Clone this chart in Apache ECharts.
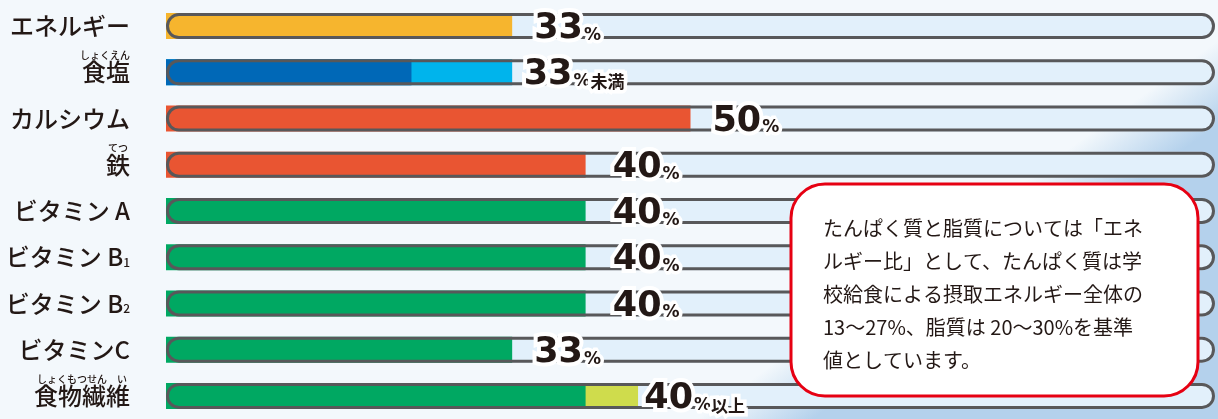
<!DOCTYPE html>
<html>
<head>
<meta charset="utf-8">
<script src="https://cdn.jsdelivr.net/npm/echarts@6/dist/echarts.min.js"></script>
<style>
  html, body { margin: 0; padding: 0; background: #f3f8fc; }
</style>
</head>
<body>
<div id="myChart" style="width: 1218px; height: 419px;"></div>
<script>
  // 項目（上から順）
  const categories = ['エネルギー', '食塩', 'カルシウム', '鉄', 'ビタミン A', 'ビタミン B1', 'ビタミン B2', 'ビタミンC', '食物繊維'];
  const rubies = ['', 'しょくえん', '', 'てつ', '', '', '', '', 'しょくもつせん　い'];
  // 基準値（%）
  const mainValues = [33, 23.4, 50, 40, 40, 40, 40, 33, 40];
  const extValues = [null, 33, null, null, null, null, null, null, 45];
  const labelAnchor = [33, 32, 50, 40.5, 40.5, 40.5, 40.5, 33, 43.5];
  const labelNums = ['33', '33', '50', '40', '40', '40', '40', '33', '40'];
  const labelSuffix = ['', '未満', '', '', '', '', '', '', '以上'];
  const fullScale = [100, 100, 100, 100, 100, 100, 100, 100, 100];
  const mainColors = ['#f6b52e', '#0068b7', '#e95532', '#e95532', '#00a862', '#00a862', '#00a862', '#00a862', '#00a862'];
  const extColors = [null, '#00b4ec', null, null, null, null, null, null, '#cfdc4c'];

  const noteLines = [
    'たんぱく質と脂質については「エネ',
    'ルギー比」として、たんぱく質は学',
    '校給食による摂取エネルギー全体の',
    '13～27%、脂質は 20～30%を基準',
    '値としています。'
  ];

  let myChart = echarts.init(document.getElementById('myChart'));
  const BAR_W = 26;

  myChart.setOption({
    backgroundColor: '#f3f8fc',
    animation: false,
    grid: { left: 166, right: 3, top: 3, height: 427 },
    xAxis: { type: 'value', min: 0, max: 100, show: false },
    yAxis: {
      type: 'category',
      inverse: true,
      data: categories,
      axisLine: { show: false },
      axisTick: { show: false },
      axisLabel: {
        margin: 36,
        color: '#231815',
        formatter: function (value, idx) {
          const m = value.match(/^(.*B)(\d)$/);
          const main = m ? '{n|' + m[1] + '}{sub|' + m[2] + '}' : '{n|' + value + '}';
          const r = rubies[idx];
          if (r) return '{r|' + r + '}\n' + main + '\n{r| }';
          return main;
        },
        rich: {
          n: { fontFamily: 'Noto Sans CJK JP', fontSize: 24, fontWeight: 500, color: '#231815', lineHeight: 26 },
          sub: { fontFamily: 'Noto Sans CJK JP', fontSize: 12, fontWeight: 500, color: '#231815', verticalAlign: 'bottom', lineHeight: 26, padding: [0, 0, 2, 0] },
          r: { fontFamily: 'Noto Sans CJK JP', fontSize: 10, fontWeight: 500, color: '#231815', lineHeight: 8, align: 'center' }
        }
      }
    },
    graphic: [
      {
        type: 'polygon',
        z: 0,
        shape: { points: [[1218, 10], [1218, 419], [640, 419], [760, 330], [1000, 150], [1190, 40]] },
        style: {
          fill: {
            type: 'linear', global: true,
            x: 960, y: 228, x2: 1000, y2: 283,
            colorStops: [{ offset: 0, color: 'rgba(180,210,236,0)' }, { offset: 1, color: '#b4d1ec' }]
          }
        }
      },
      {
        type: 'rect',
        z: 100,
        shape: { x: 791, y: 184, width: 407, height: 212, r: 34 },
        style: { fill: '#ffffff', stroke: '#e60012', lineWidth: 3 }
      },
      {
        type: 'text',
        z: 101,
        style: {
          x: 823, y: 212,
          text: noteLines.join('\n'),
          fontFamily: 'Noto Sans CJK JP',
          fontSize: 20,
          lineHeight: 33,
          fill: '#231815',
          verticalAlign: 'top'
        }
      }
    ],
    series: [
      {
        name: 'track',
        type: 'bar',
        z: 2,
        barWidth: BAR_W,
        barGap: '-100%',
        silent: true,
        itemStyle: { color: '#e2f0fb', borderRadius: 13 },
        data: fullScale
      },
      {
        name: 'ext',
        type: 'bar',
        z: 3,
        barWidth: BAR_W,
        barGap: '-100%',
        data: extValues.map((v, i) => ({ value: v, itemStyle: { color: extColors[i] } }))
      },
      {
        name: 'main',
        type: 'bar',
        z: 4,
        barWidth: BAR_W,
        barGap: '-100%',
        data: mainValues.map((v, i) => ({ value: v, itemStyle: { color: mainColors[i] } }))
      },
      {
        name: 'outline',
        type: 'bar',
        z: 5,
        barWidth: BAR_W,
        barGap: '-100%',
        silent: true,
        itemStyle: { color: 'rgba(0,0,0,0)', borderColor: '#58585a', borderWidth: 3, borderRadius: 13 },
        data: fullScale
      },
      {
        name: 'label',
        type: 'bar',
        z: 6,
        barWidth: BAR_W,
        barGap: '-100%',
        silent: true,
        itemStyle: { color: 'rgba(0,0,0,0)' },
        label: {
          show: true,
          position: 'right',
          distance: 22,
          offset: [0, 3],
          formatter: function (p) {
            const i = p.dataIndex;
            let s = '{v|' + labelNums[i] + '}{p|%}';
            if (labelSuffix[i]) s += '{s|' + labelSuffix[i] + '}';
            return s;
          },
          rich: {
            v: { fontFamily: 'DejaVu Sans', fontWeight: 'bold', fontSize: 35, color: '#231815', textBorderColor: '#fff', textBorderWidth: 8, lineHeight: 36 },
            p: { fontFamily: 'DejaVu Sans', fontWeight: 'bold', fontSize: 17, color: '#231815', textBorderColor: '#fff', textBorderWidth: 7, verticalAlign: 'bottom', lineHeight: 36, padding: [0, 0, 3, 1] },
            s: { fontFamily: 'Noto Sans CJK JP', fontWeight: 'bold', fontSize: 17, color: '#231815', textBorderColor: '#fff', textBorderWidth: 7, verticalAlign: 'bottom', lineHeight: 36, padding: [0, 0, 3, 0] }
          }
        },
        data: labelAnchor
      }
    ]
  });
</script>
</body>
</html>
